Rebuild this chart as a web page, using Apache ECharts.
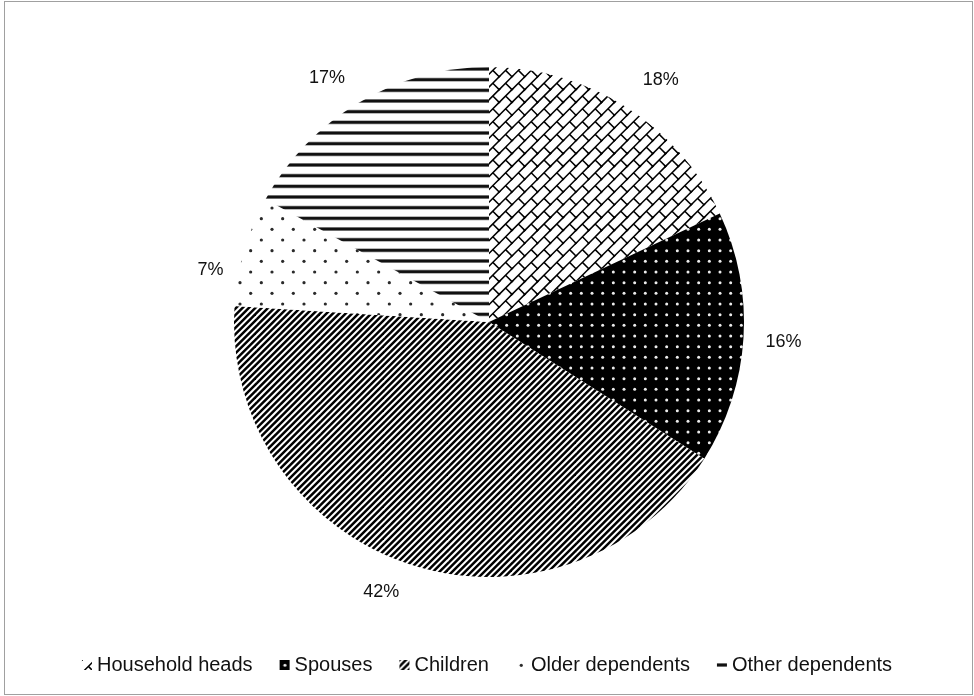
<!DOCTYPE html>
<html>
<head>
<meta charset="utf-8">
<script src="https://cdn.jsdelivr.net/npm/echarts@6/dist/echarts.min.js"></script>
<style>
  html, body { margin: 0; padding: 0; background: #fff; }
  #wrap { position: relative; width: 974px; height: 696px; }
  #frame { position: absolute; left: 4px; top: 1px; width: 969px; height: 694px; border: 1px solid #a0a0a0; box-sizing: border-box; }
  #chart { position: absolute; left: 0; top: 0; width: 974px; height: 696px; }
</style>
</head>
<body>
<div id="wrap">
  <div id="frame"></div>
  <div id="chart"></div>
</div>
<script>
// ---- data ----
const categories = ['Household heads', 'Spouses', 'Children', 'Older dependents', 'Other dependents'];
const shares = [18, 16, 42, 7, 17];

// ---- pattern tiles ----
const S = 64;
function tile(draw) {
  const c = document.createElement('canvas');
  c.width = S; c.height = S;
  const ctx = c.getContext('2d');
  draw(ctx);
  return c;
}
const brick = tile(ctx => {
  ctx.fillStyle = '#fff'; ctx.fillRect(0, 0, S, S);
  ctx.strokeStyle = '#000'; ctx.lineWidth = 1.5; ctx.lineCap = 'butt';
  const t = S / 5;
  for (let i = -1; i <= 5; i++) {
    for (let j = -1; j <= 5; j++) {
      const ox = i * t, oy = j * t;
      ctx.beginPath();
      ctx.moveTo(ox - 1, oy + t + 1); ctx.lineTo(ox + t + 1, oy - 1);
      ctx.moveTo(ox + t / 2, oy + t / 2); ctx.lineTo(ox + t, oy + t);
      ctx.stroke();
    }
  }
});
const darkDots = tile(ctx => {
  ctx.fillStyle = '#000'; ctx.fillRect(0, 0, S, S);
  ctx.fillStyle = '#ececec';
  const t = S / 6;
  for (let i = 0; i < 6; i++) for (let j = 0; j < 6; j++) {
    ctx.beginPath(); ctx.arc(i * t + t / 2, j * t + t / 2, 1.5, 0, Math.PI * 2); ctx.fill();
  }
});
const stripes = tile(ctx => {
  ctx.fillStyle = '#fff'; ctx.fillRect(0, 0, S, S);
  ctx.strokeStyle = '#000'; ctx.lineWidth = 2.5;
  const p = S / 10;
  for (let k = -4; k <= 24; k++) {
    const c = k * p;
    ctx.beginPath(); ctx.moveTo(-6, c + 6); ctx.lineTo(S + 6, c - S - 6); ctx.stroke();
  }
});
const sparseDots = tile(ctx => {
  ctx.fillStyle = '#fff'; ctx.fillRect(0, 0, S, S);
  ctx.fillStyle = '#2a2a2a';
  const ry = S / 6, rx = S / 3;
  for (let m = 0; m < 6; m++) for (let k = 0; k < 3; k++) {
    const x = k * rx + (m % 2) * (rx / 2) + rx / 4, y = m * ry + ry / 2;
    ctx.beginPath(); ctx.arc(x, y, 1.6, 0, Math.PI * 2); ctx.fill();
  }
});
const hLines = tile(ctx => {
  ctx.fillStyle = '#fff'; ctx.fillRect(0, 0, S, S);
  const ry = S / 6;
  for (let m = 0; m < 6; m++) {
    ctx.fillStyle = '#999'; ctx.fillRect(0, m * ry + 3, S, 4);
    ctx.fillStyle = '#111'; ctx.fillRect(0, m * ry + 3.7, S, 2.6);
  }
});
const patterns = [brick, darkDots, stripes, sparseDots, hLines];

// label nudges (style only)
const labelNudge = [[-5, 0], [-15, 2], [4, -3], [15, 28], [7, 3]];

const chart = echarts.init(document.getElementById('chart'), null, { renderer: 'canvas' });
chart.setOption({
  animation: false,
  backgroundColor: 'transparent',
  legend: {
    data: categories,
    left: 'center',
    top: 650,
    icon: 'rect',
    itemWidth: 10,
    itemHeight: 10,
    itemGap: 27,
    textStyle: { fontFamily: 'Liberation Sans', fontSize: 20, color: '#111' },
    selectedMode: false
  },
  series: [{
    type: 'pie',
    center: [489, 322],
    radius: 255,
    startAngle: 90,
    clockwise: true,
    avoidLabelOverlap: false,
    emphasis: { disabled: true },
    itemStyle: { borderWidth: 0 },
    label: {
      show: true,
      position: 'outside',
      formatter: p => p.value + '%',
      fontFamily: 'Liberation Sans',
      fontSize: 18,
      color: '#111'
    },
    labelLine: { show: true, length: 32, length2: 0, lineStyle: { opacity: 0 } },
    labelLayout: p => ({ dx: labelNudge[p.dataIndex][0], dy: labelNudge[p.dataIndex][1] }),
    data: categories.map((name, i) => ({
      name,
      value: shares[i],
      itemStyle: { color: { image: patterns[i], repeat: 'repeat' } }
    }))
  }]
});
</script>
</body>
</html>
